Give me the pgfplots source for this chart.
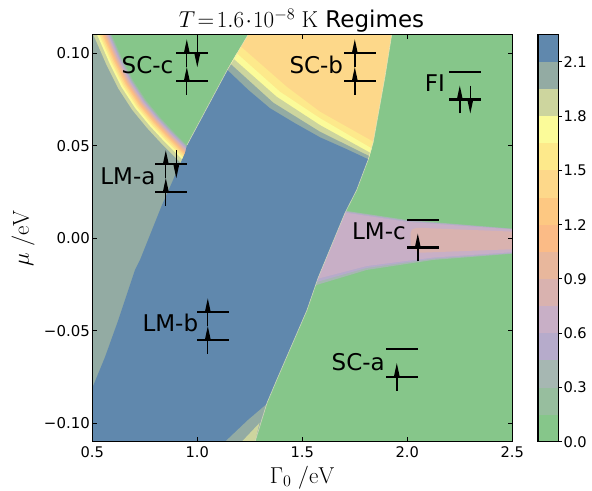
\documentclass[border=0pt]{standalone}
\usepackage{fix-cm}
\usepackage[no-math]{fontspec}
\setmainfont{DejaVu Sans}
\usepackage{pgfplots}
\pgfplotsset{compat=1.18}
\usetikzlibrary{arrows.meta}
\definecolor{bA}{HTML}{86C68A}
\definecolor{bB}{HTML}{97BE9E}
\definecolor{bC}{HTML}{A6B7B2}
\definecolor{bD}{HTML}{B6ABCB}
\definecolor{bE}{HTML}{C8AFC6}
\definecolor{bF}{HTML}{D9B2AF}
\definecolor{bG}{HTML}{E8B79C}
\definecolor{bH}{HTML}{FBBB86}
\definecolor{bI}{HTML}{FDC882}
\definecolor{bJ}{HTML}{FDD88A}
\definecolor{bK}{HTML}{FDE98B}
\definecolor{bL}{HTML}{FBFB99}
\definecolor{bM}{HTML}{CDD59E}
\definecolor{bN}{HTML}{93ABA3}
\definecolor{bO}{HTML}{6088AD}
\definecolor{pale}{HTML}{E6E6C0}
\newcommand{\bigf}{\fontsize{23.1}{25}\selectfont}
\newcommand{\tickf}{\fontsize{14.7}{16}\selectfont}
\newcommand{\tickg}{\fontsize{15}{16}\selectfont}
\tikzset{
  reg/.style={fill=#1,draw=none},
  lev/.style={black,line width=2.3bp},
  arr/.style={black,line width=1.4bp,-{Triangle[length=13bp,width=5.6bp,line width=0pt]}},
  lab/.style={anchor=base east,inner sep=0pt,font=\bigf},
  band/.style 2 args={color=#1,line width=#2,line join=round},
}
\newcommand{\Ecurve}{(.5510,.1207)(.5938,.1099)(.6414,.0975)(.6938,.0856)(.7557,.0748)(.8224,.0656)(.8843,.0580)(.9510,.0504)(.9938,.0456)}
\begin{document}
\begin{tikzpicture}
\path[use as bounding box] (-92.3bp,-49.2bp) rectangle (499.7bp,441.8bp);
\begin{axis}[
  at={(0,0)},anchor=south west,scale only axis,width=420bp,height=407bp,
  xmin=0.5,xmax=2.5,ymin=-0.11,ymax=0.11,
  xtick={0.5,1.0,1.5,2.0,2.5},xticklabels={0.5,1.0,1.5,2.0,2.5},
  ytick={-0.10,-0.05,0,0.05,0.10},yticklabels={−0.10,−0.05,0.00,0.05,0.10},
  tick align=inside,major tick length=4.5bp,
  tick style={black,line width=1bp},
  xticklabel style={font=\tickf,yshift=-1.5bp},
  yticklabel style={font=\tickg,xshift=1bp},
  axis line style={black,line width=1.2bp},
  axis on top,no markers,
]
% background regime
\addplot[reg=bA] coordinates {(.5,-.11)(2.5,-.11)(2.5,.11)(.5,.11)} --cycle;
% LM-a
\addplot[reg=bN] coordinates {(.5,.11)(.7,.11)(1.0,.05)(1.0,-.11)(.5,-.11)} --cycle;
% thin contour bands between LM-a and SC-c
\addplot[band={bM}{34bp}] coordinates {\Ecurve};
\addplot[band={bL}{27bp}] coordinates {\Ecurve};
\addplot[band={bK}{23bp}] coordinates {\Ecurve};
\addplot[band={bJ}{20bp}] coordinates {\Ecurve};
\addplot[band={bI}{17.2bp}] coordinates {\Ecurve};
\addplot[band={bH}{14.8bp}] coordinates {\Ecurve};
\addplot[band={bG}{12.4bp}] coordinates {\Ecurve};
\addplot[band={bF}{10bp}] coordinates {\Ecurve};
\addplot[band={bE}{7.8bp}] coordinates {\Ecurve};
\addplot[band={bD}{5.8bp}] coordinates {\Ecurve};
\addplot[band={bC}{3.8bp}] coordinates {\Ecurve};
\addplot[band={bB}{2bp}] coordinates {\Ecurve};
% SC-c
\addplot[reg=bA] coordinates {(.5510,.1207)(.5938,.1099)(.6414,.0975)(.6938,.0856)(.7557,.0748)(.8224,.0656)(.8843,.0580)(.9510,.0504)(1.1429,.0910)(1.2414,.1100)(1.2414,.1207)} --cycle;
% SC-b
\addplot[reg=bJ] coordinates {(1.1429,.0910)(1.2414,.11)(1.9257,.11)(1.8938,.0874)(1.8381,.0522)(1.8143,.0427)(1.5,.02)} --cycle;
\addplot[reg=bK] coordinates {(1.2076,.1036)(1.4257,.0819)(1.5843,.0684)(1.8381,.0522)(1.8143,.0427)(1.5,.02)(1.1429,.0910)} --cycle;
\addplot[reg=bL] coordinates {(1.1876,.1000)(1.3938,.0792)(1.5843,.0649)(1.8305,.0486)(1.8143,.0427)(1.5,.02)(1.1429,.0910)} --cycle;
\addplot[reg=bM] coordinates {(1.1748,.0968)(1.3781,.0765)(1.5843,.0612)(1.8224,.0463)(1.8143,.0427)(1.5,.02)(1.1429,.0910)} --cycle;
\addplot[reg=bN] coordinates {(1.1590,.0942)(1.3619,.0733)(1.5843,.0576)(1.8176,.0445)(1.8143,.0427)(1.5,.02)(1.1429,.0910)} --cycle;
% LM-c
\addplot[reg=bC] coordinates {(1.6795,.0153)(1.9971,.0099)(2.5,.0052)(2.5,-.0083)(2.1224,-.0117)(1.8067,-.0171)(1.5686,-.0252)(1.5271,-.0269)} --cycle;
\addplot[reg=bD] coordinates {(1.6795,.0148)(1.9971,.0094)(2.5,.0050)(2.5,-.0080)(2.1224,-.0110)(1.8067,-.0160)(1.5686,-.0236)(1.5271,-.0260)} --cycle;
\addplot[reg=bE] coordinates {(1.6795,.0143)(1.9971,.0089)(2.5,.0048)(2.5,-.0075)(2.1224,-.0104)(1.8067,-.0150)(1.5686,-.0220)(1.5271,-.0250)} --cycle;
\addplot[reg=bF] coordinates {(2.0162,.0029)(2.0224,.0048)(2.0462,.0057)(2.5,.0036)(2.5,-.0059)(2.0605,-.0078)(2.0367,-.0063)(2.0162,-.0036)} --cycle;
% LM-b
\addplot[reg=bO] coordinates {(.5,-.0809)(.5605,-.0642)(.6238,-.0442)(.7033,-.0171)(.7271,-.0117)(.8319,.0180)(.9414,.0461)(.9510,.0504)(1.1429,.0910)(1.2429,.0802)(1.3462,.0703)(1.4652,.0622)(1.5843,.0546)(1.7033,.0486)(1.8143,.0427)(1.7590,.0261)(1.7033,.0137)(1.5748,-.0215)(1.5224,-.0388)(1.3781,-.0766)(1.3319,-.0890)(1.2748,-.11)(.5,-.11)} --cycle;
\addplot[reg=bN] coordinates {(1.1319,-.11)(1.2414,-.0982)(1.3305,-.0896)(1.2748,-.11)} --cycle;
\addplot[reg=bM] coordinates {(1.2114,-.11)(1.2962,-.0998)(1.2748,-.11)} --cycle;
% pale seams
\addplot[color=pale,opacity=.8,line width=.6bp] coordinates {(.9510,.0504)(1.1429,.0910)};
\addplot[color=pale,opacity=.8,line width=.6bp] coordinates {(1.9257,.11)(1.8938,.0874)(1.8381,.0522)(1.8143,.0427)(1.7590,.0261)(1.7033,.0137)(1.5748,-.0215)(1.5224,-.0388)(1.3781,-.0766)(1.3319,-.0890)(1.2748,-.11)};
\addplot[color=pale,opacity=.8,line width=.5bp] coordinates {(1.1429,.0910)(1.2414,.11)};
% levels: SC-c
\addplot[lev] coordinates {(.90,.100)(1.05,.100)};
\addplot[lev] coordinates {(.90,.085)(1.05,.085)};
\addplot[arr] coordinates {(.95,.0775)(.95,.0925)};
\addplot[arr] coordinates {(.95,.0925)(.95,.1075)};
\addplot[arr] coordinates {(1.0,.1075)(1.0,.0925)};
% LM-a
\addplot[lev] coordinates {(.80,.040)(.95,.040)};
\addplot[lev] coordinates {(.80,.025)(.95,.025)};
\addplot[arr] coordinates {(.85,.0175)(.85,.0325)};
\addplot[arr] coordinates {(.85,.0325)(.85,.0475)};
\addplot[arr] coordinates {(.90,.0475)(.90,.0325)};
% SC-b
\addplot[lev] coordinates {(1.70,.100)(1.85,.100)};
\addplot[lev] coordinates {(1.70,.085)(1.85,.085)};
\addplot[arr] coordinates {(1.75,.0775)(1.75,.0925)};
\addplot[arr] coordinates {(1.75,.0925)(1.75,.1075)};
% LM-b
\addplot[lev] coordinates {(1.0,-.040)(1.15,-.040)};
\addplot[lev] coordinates {(1.0,-.055)(1.15,-.055)};
\addplot[arr] coordinates {(1.05,-.0625)(1.05,-.0475)};
\addplot[arr] coordinates {(1.05,-.0475)(1.05,-.0325)};
% FI
\addplot[lev] coordinates {(2.2,.090)(2.35,.090)};
\addplot[lev] coordinates {(2.2,.075)(2.35,.075)};
\addplot[arr] coordinates {(2.25,.0675)(2.25,.0825)};
\addplot[arr] coordinates {(2.30,.0825)(2.30,.0675)};
% LM-c
\addplot[lev] coordinates {(2.0,.010)(2.15,.010)};
\addplot[lev] coordinates {(2.0,-.005)(2.15,-.005)};
\addplot[arr] coordinates {(2.05,-.0125)(2.05,.0025)};
% SC-a
\addplot[lev] coordinates {(1.9,-.060)(2.05,-.060)};
\addplot[lev] coordinates {(1.9,-.075)(2.05,-.075)};
\addplot[arr] coordinates {(1.95,-.0825)(1.95,-.0675)};
\node[lab] at (axis cs:.8867,.0892) {SC-c};
\node[lab] at (axis cs:1.6952,.0892) {SC-b};
\node[lab] at (axis cs:.8019,.0292) {LM-a};
\node[lab] at (axis cs:1.0048,-.0505) {LM-b};
\node[lab] at (axis cs:1.9938,-.0009) {LM-c};
\node[lab] at (axis cs:2.1795,.0792) {FI};
\node[lab] at (axis cs:1.8938,-.0712) {SC-a};
\end{axis}
\begin{axis}[
  at={(445.7bp,0bp)},anchor=south west,scale only axis,width=20.5bp,height=407bp,
  xmin=0,xmax=1,ymin=0,ymax=2.25,
  xtick=\empty,ytick={0,0.3,0.6,0.9,1.2,1.5,1.8,2.1},
  yticklabels={0.0,0.3,0.6,0.9,1.2,1.5,1.8,2.1},
  yticklabel pos=right,
  tick align=outside,tick pos=right,major tick length=3.5bp,
  tick style={black,line width=1bp},
  yticklabel style={font=\tickf,xshift=-2bp},
  axis line style={black,line width=1.2bp},
  axis on top,no markers,
]
\addplot[reg=bA] coordinates {(0,0)(1,0)(1,.15)(0,.15)} --cycle;
\addplot[reg=bB] coordinates {(0,.15)(1,.15)(1,.30)(0,.30)} --cycle;
\addplot[reg=bC] coordinates {(0,.30)(1,.30)(1,.45)(0,.45)} --cycle;
\addplot[reg=bD] coordinates {(0,.45)(1,.45)(1,.60)(0,.60)} --cycle;
\addplot[reg=bE] coordinates {(0,.60)(1,.60)(1,.75)(0,.75)} --cycle;
\addplot[reg=bF] coordinates {(0,.75)(1,.75)(1,.90)(0,.90)} --cycle;
\addplot[reg=bG] coordinates {(0,.90)(1,.90)(1,1.05)(0,1.05)} --cycle;
\addplot[reg=bH] coordinates {(0,1.05)(1,1.05)(1,1.20)(0,1.20)} --cycle;
\addplot[reg=bI] coordinates {(0,1.20)(1,1.20)(1,1.35)(0,1.35)} --cycle;
\addplot[reg=bJ] coordinates {(0,1.35)(1,1.35)(1,1.50)(0,1.50)} --cycle;
\addplot[reg=bK] coordinates {(0,1.50)(1,1.50)(1,1.65)(0,1.65)} --cycle;
\addplot[reg=bL] coordinates {(0,1.65)(1,1.65)(1,1.80)(0,1.80)} --cycle;
\addplot[reg=bM] coordinates {(0,1.80)(1,1.80)(1,1.95)(0,1.95)} --cycle;
\addplot[reg=bN] coordinates {(0,1.95)(1,1.95)(1,2.10)(0,2.10)} --cycle;
\addplot[reg=bO] coordinates {(0,2.10)(1,2.10)(1,2.25)(0,2.25)} --cycle;
\end{axis}
\node[anchor=base,inner sep=0pt,font=\bigf] at (209.2bp,413.8bp) {$T\!=\!1.6\!\cdot\!10^{-8}\;\mathrm{K}$ Regimes};
\node[anchor=base,inner sep=0pt,font=\bigf] at (210bp,-41.2bp) {$\Gamma_0\;/\mathrm{eV}$};
\node[anchor=base,inner sep=0pt,font=\bigf,rotate=90] at (-63.3bp,203.5bp) {$\mu\;/\mathrm{eV}$};
\end{tikzpicture}
\end{document}
